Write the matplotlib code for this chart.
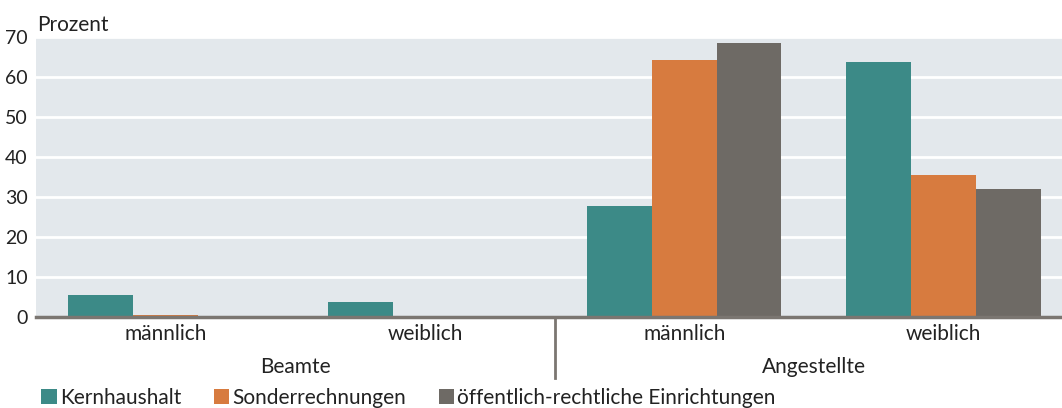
"""Personal im öffentlichen Dienst nach Status und Geschlecht."""
import matplotlib
matplotlib.use("Agg")
import matplotlib.pyplot as plt
import matplotlib.transforms as mtransforms
import numpy as np
from matplotlib.patches import Patch

# data
groups = ["Beamte", "Angestellte"]
sub_labels = ["männlich", "weiblich", "männlich", "weiblich"]
series = ["Kernhaushalt", "Sonderrechnungen", "öffentlich-rechtliche Einrichtungen"]
kernhaushalt = [5.5, 3.7, 27.7, 63.7]
sonderrechnungen = [0.4, 0.0, 64.2, 35.5]
oeffentlich = [0.0, 0.0, 68.5, 32.0]

colors = ["#3c8a87", "#d77b3f", "#6e6a65"]
bg = "#e3e8ec"
axis_gray = "#7b7671"
text_col = "#222222"

plt.rcParams["font.family"] = ["Lato", "DejaVu Sans"]

fig = plt.figure(figsize=(10.62, 4.08), dpi=100)
ax = fig.add_axes([36 / 1062, 91 / 408, 1026 / 1062, 280 / 408])
ax.set_facecolor(bg)

x = np.arange(len(sub_labels))
w = 0.25
for i, (vals, c) in enumerate(zip([kernhaushalt, sonderrechnungen, oeffentlich], colors)):
    ax.bar(x + (i - 1) * w, vals, width=w, color=c, zorder=3, linewidth=0)

ax.set_xlim(-0.5, 3.457)
ax.set_ylim(0, 70)
ax.set_yticks(range(0, 71, 10))
ax.yaxis.grid(True, color="white", linewidth=2, zorder=1)
ax.set_axisbelow(True)
for s in ["top", "right", "left"]:
    ax.spines[s].set_visible(False)
ax.spines["bottom"].set_color(axis_gray)
ax.spines["bottom"].set_linewidth(2.5)
ax.spines["bottom"].set_zorder(4)

ax.tick_params(axis="y", length=0, pad=6, labelsize=14, labelcolor=text_col)
ax.set_xticks(x)
ax.set_xticklabels(sub_labels, fontsize=15, color=text_col)
ax.tick_params(axis="x", length=0, pad=5)

# group labels and divider
trans = mtransforms.blended_transform_factory(ax.transData, ax.transAxes)
for gi, g in enumerate(groups):
    ax.text(2 * gi + 0.5, -0.18, g, transform=trans, ha="center", va="center",
            fontsize=15, color=text_col)
ax.plot([1.5, 1.5], [0, -0.218], transform=trans, color=axis_gray,
        linewidth=2, clip_on=False, zorder=5)

fig.text(37 / 1062, 1 - 25 / 408, "Prozent", fontsize=15, color=text_col,
         ha="left", va="center")

handles = [Patch(facecolor=c, edgecolor="none") for c in colors]
fig.legend(handles, series, loc="center left", bbox_to_anchor=(33 / 1062, 1 - 398 / 408),
           ncol=3, frameon=False, fontsize=15, handlelength=0.75, handleheight=0.75,
           handletextpad=0.15, columnspacing=1.55, labelcolor=text_col, borderaxespad=0)

fig.savefig("out.png", dpi=100)
